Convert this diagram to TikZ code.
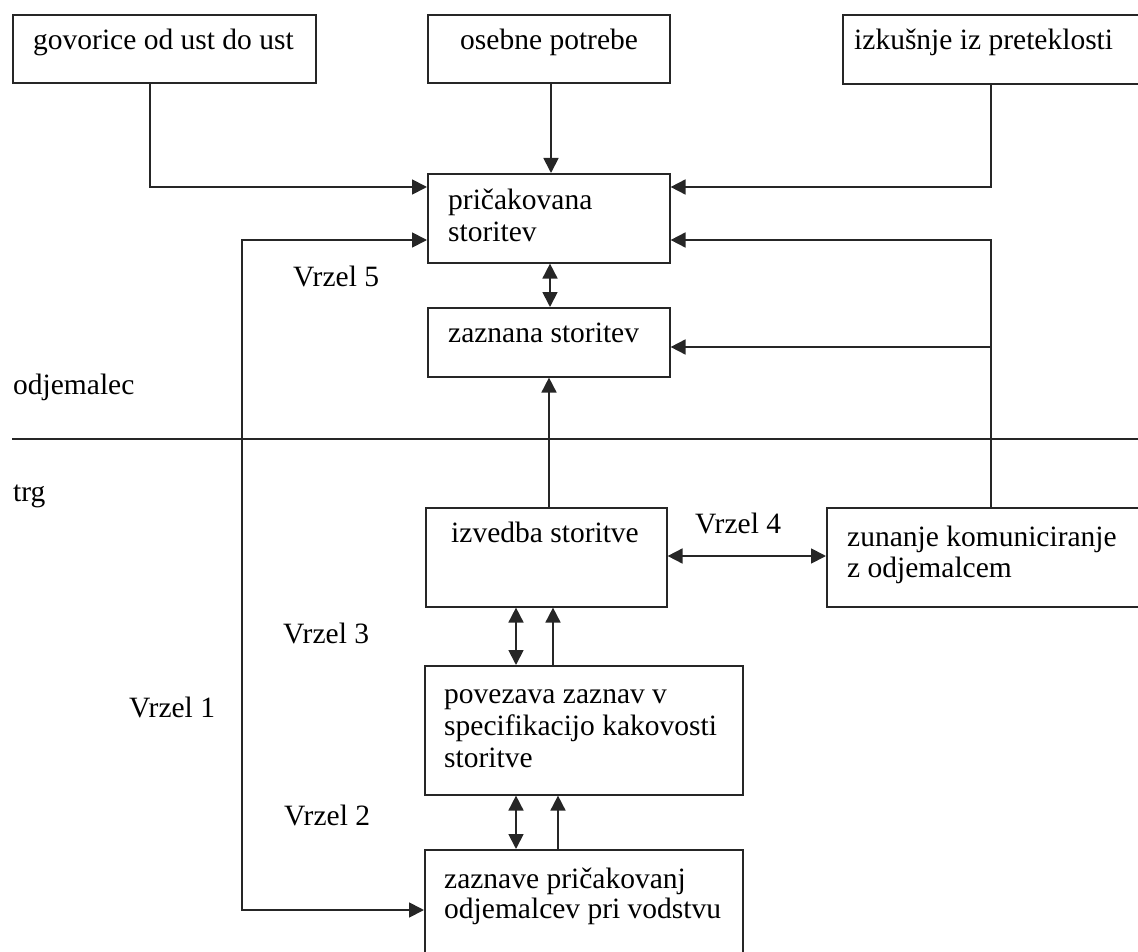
\documentclass[tikz,border=0pt]{standalone}
\usepackage{fontspec}
\setmainfont{Liberation Serif}
\usetikzlibrary{arrows.meta,calc}
\begin{document}
\begin{tikzpicture}[x=1pt,y=-1pt,
  boxnode/.style={draw=black!85,line width=1.6pt,inner sep=0pt,anchor=north west},
  lbl/.style={inner sep=0pt,anchor=base west,font=\fontsize{29.5}{31}\selectfont,text=black},
  conn/.style={draw=black!85,line width=1.8pt},
  arr/.style={conn,-{Triangle[length=15pt,width=15pt]}},
  darr/.style={conn,{Triangle[length=15pt,width=15pt]}-{Triangle[length=15pt,width=15pt]}}]
\useasboundingbox (0,0) rectangle (1138,952);
% boxes
\node[boxnode,minimum width=303pt,minimum height=68pt] (gov) at (12,14) {};
\node[boxnode,minimum width=242pt,minimum height=68pt] (ose) at (427,14) {};
\node[boxnode,minimum width=300pt,minimum height=69pt] (izk) at (842,14) {};
\node[boxnode,minimum width=242pt,minimum height=89pt] (pri) at (427,173) {};
\node[boxnode,minimum width=242pt,minimum height=69pt] (zaz) at (427,307) {};
\node[boxnode,minimum width=241pt,minimum height=99pt] (izv) at (425,507) {};
\node[boxnode,minimum width=316pt,minimum height=99pt] (zun) at (826,507) {};
\node[boxnode,minimum width=318pt,minimum height=129pt] (pov) at (424,665) {};
\node[boxnode,minimum width=318pt,minimum height=112pt] (zav) at (424,849) {};
% texts
\node[lbl] (tgov) at (33,50) {govorice od ust do ust};
\node[lbl] (tose) at (460,50) {osebne potrebe};
\node[lbl] (tizk) at (854,50) {izkušnje iz preteklosti};
\node[lbl] (tpri1) at (448,210) {pričakovana};
\node[lbl] (tpri2) at (448,241) {storitev};
\node[lbl] (tzaz) at (448,342) {zaznana storitev};
\node[lbl] (tizv) at (451,542) {izvedba storitve};
\node[lbl] (tzun1) at (847,546) {zunanje komuniciranje};
\node[lbl] (tzun2) at (847,577) {z odjemalcem};
\node[lbl] (tpov1) at (444,703) {povezava zaznav v};
\node[lbl] (tpov2) at (444,735) {specifikacijo kakovosti};
\node[lbl] (tpov3) at (444,767) {storitve};
\node[lbl] (tzav1) at (444,888) {zaznave pričakovanj};
\node[lbl] (tzav2) at (444,918) {odjemalcev pri vodstvu};
\node[lbl] (todj) at (13,394) {odjemalec};
\node[lbl] (ttrg) at (13,501) {trg};
\node[lbl] (tv5) at (293,286) {Vrzel 5};
\node[lbl] (tv4) at (695,533) {Vrzel 4};
\node[lbl] (tv3) at (283,643) {Vrzel 3};
\node[lbl] (tv2) at (284,825) {Vrzel 2};
\node[lbl] (tv1) at (129,717) {Vrzel 1};
% separator
\coordinate (sepL) at (12,439);
\coordinate (sepR) at (1138,439);
\draw[conn,line width=1.5pt] (sepL) -- (sepR);
% connectors
\draw[arr] (gov.south west -| 150,0) -- (150,187) -- (pri.west |- 0,187);
\draw[arr] (ose.south west -| 551,0) -- (pri.north west -| 551,0);
\draw[arr] (izk.south west -| 991,0) -- (991,187) -- (pri.east |- 0,187);
\draw[arr] (zun.north west -| 991,0) -- (991,240) -- (pri.east |- 0,240);
\draw[arr] (991,347) -- (zaz.east |- 0,347);
\draw[darr] (pri.west |- 0,240) -- (242,240) -- (242,910) -- (zav.west |- 0,910);
\draw[darr] (pri.south west -| 550,0) -- (zaz.north west -| 550,0);
\draw[arr] (izv.north west -| 549,0) -- (zaz.south west -| 549,0);
\draw[darr] (izv.east |- 0,556) -- (zun.west |- 0,556);
\draw[darr] (izv.south west -| 516,0) -- (pov.north west -| 516,0);
\draw[arr] (pov.north west -| 553,0) -- (izv.south west -| 553,0);
\draw[darr] (pov.south west -| 516,0) -- (zav.north west -| 516,0);
\draw[arr] (zav.north west -| 558,0) -- (pov.south west -| 558,0);
\end{tikzpicture}
\end{document}
